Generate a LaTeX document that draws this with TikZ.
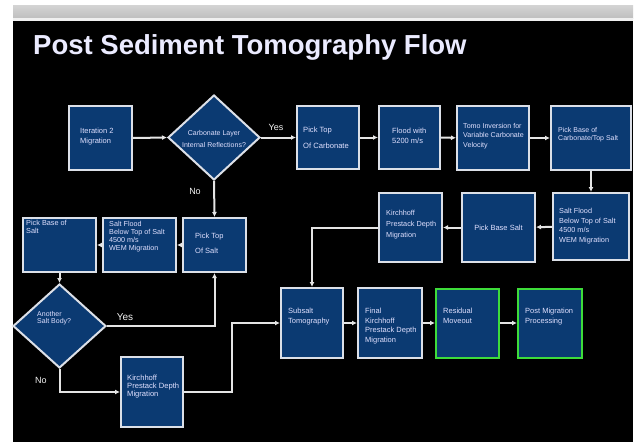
\documentclass[tikz,border=0pt]{standalone}
\usepackage{fontspec}
\setmainfont{Liberation Sans}
\usetikzlibrary{shapes.geometric,arrows.meta}
\definecolor{boxblue}{HTML}{0B3A72}
\definecolor{boxline}{HTML}{DCE0E8}
\definecolor{greenline}{HTML}{3EDC3A}
\definecolor{wire}{HTML}{E4E4E4}
\tikzset{
  box/.style={draw=boxline, fill=boxblue, line width=2pt, inner sep=0pt, rectangle},
  gbox/.style={box, draw=greenline},
  dia/.style={draw=boxline, fill=boxblue, line width=2pt, inner sep=0pt, diamond},
  txt/.style={text=white!88!blue, font=\fontsize{7.5}{9.5}\selectfont, align=left, inner sep=0pt, anchor=north west},
  ctxt/.style={txt, align=center, anchor=center},
  lbl/.style={text=white!90!gray, font=\fontsize{9}{10}\selectfont, inner sep=0pt},
  conn/.style={draw=wire, line width=2pt, -{Latex[length=5pt,width=5pt]}},
  plain/.style={draw=wire, line width=2pt},
}
\begin{document}
\begin{tikzpicture}[x=1pt,y=-1pt]
\useasboundingbox (0,0) rectangle (636,442);
\fill[white] (0,0) rectangle (636,442);
\shade[top color=black!17, bottom color=black!25] (13,5) rectangle (633,18);
\fill[black!6] (13,18) rectangle (633,20.5);
\fill[black] (13,20.5) rectangle (633,442);
\node[anchor=base west, text=white!92!blue, font=\bfseries\fontsize{27.5}{30}\selectfont, inner sep=0pt] (title) at (33,54) {Post Sediment Tomography Flow};

% boxes
\node[box, minimum width=63, minimum height=64] (iter) at (100.5,138) {};
\node[dia, minimum width=92, minimum height=85] (d1) at (214,137.5) {};
\node[box, minimum width=62, minimum height=63] (ptc) at (328,137.5) {};
\node[box, minimum width=61, minimum height=63] (flood) at (409.5,137.5) {};
\node[box, minimum width=72, minimum height=64] (tomo) at (493,138) {};
\node[box, minimum width=80, minimum height=64] (pbc) at (591,138) {};
\node[box, minimum width=76, minimum height=67] (sfr) at (591,226.5) {};
\node[box, minimum width=73, minimum height=69] (pbs) at (498.5,227.5) {};
\node[box, minimum width=63, minimum height=69] (kt) at (410.5,227.5) {};
\node[box, minimum width=63, minimum height=54] (pts) at (214.5,245) {};
\node[box, minimum width=73, minimum height=54] (sfl) at (139.5,245) {};
\node[box, minimum width=73, minimum height=54] (pbsl) at (59.5,245) {};
\node[dia, minimum width=93, minimum height=84] (d2) at (59.5,326) {};
\node[box, minimum width=62, minimum height=70] (kb) at (152,392) {};
\node[box, minimum width=62, minimum height=70] (sub) at (312,323) {};
\node[box, minimum width=64, minimum height=70] (fk) at (390,323) {};
\node[gbox, minimum width=63, minimum height=69] (rm) at (467.5,323) {};
\node[gbox, minimum width=64, minimum height=69] (pmp) at (550,323) {};

% texts
\node[txt] (titer) at (80,128) {Iteration 2\\Migration};
\node[ctxt, font=\fontsize{7}{12}\selectfont] (td1) at (214,139) {Carbonate Layer\\Internal Reflections?};
\node[txt, font=\fontsize{7.6}{15.5}\selectfont] (tptc) at (303,127) {Pick Top\\Of Carbonate};
\node[txt] (tflood) at (392,128) {Flood with\\5200 m/s};
\node[txt, font=\fontsize{7.1}{9.5}\selectfont] (ttomo) at (463,123) {Tomo Inversion for\\Variable Carbonate\\Velocity};
\node[txt, font=\fontsize{7}{8.5}\selectfont] (tpbc) at (558,127) {Pick Base of\\Carbonate/Top Salt};
\node[txt, font=\fontsize{7.3}{9.7}\selectfont] (tsfr) at (559,208) {Salt Flood\\Below Top of Salt\\4500 m/s\\WEM Migration};
\node[ctxt] (tpbs) at (498.5,227.5) {Pick Base Salt};
\node[txt, font=\fontsize{7.3}{11}\selectfont] (tkt) at (386,210) {Kirchhoff\\Prestack Depth\\Migration};
\node[txt, font=\fontsize{7.5}{14.5}\selectfont] (tpts) at (195,233) {Pick Top\\Of Salt};
\node[txt, font=\fontsize{7.2}{8}\selectfont] (tsfl) at (109,221) {Salt Flood\\Below Top of Salt\\4500 m/s\\WEM Migration};
\node[txt, font=\fontsize{7.3}{8.5}\selectfont] (tpbsl) at (26,220) {Pick Base of\\Salt};
\node[txt, font=\fontsize{7}{7.5}\selectfont] (td2) at (37,311) {Another\\Salt Body?};
\node[txt, font=\fontsize{7.6}{7.8}\selectfont] (tkb) at (127,375) {Kirchhoff\\Prestack Depth\\Migration};
\node[txt] (tsub) at (288,308) {Subsalt\\Tomography};
\node[txt] (tfk) at (365,308) {Final\\Kirchhoff\\Prestack Depth\\Migration};
\node[txt] (trm) at (443,308) {Residual\\Moveout};
\node[txt] (tpmp) at (525,308) {Post Migration\\Processing};

% labels
\node[lbl] (yes1) at (276,127) {Yes};
\node[lbl] (no1) at (195,191) {No};
\node[lbl, font=\fontsize{10}{11}\selectfont] (yes2) at (125,317) {Yes};
\node[lbl] (no2) at (41,380) {No};

% helper coordinates
\coordinate (c1) at (312,227.5);
\coordinate (c2) at (214.5,326);
\coordinate (c3) at (59.5,392);
\coordinate (c4) at (232,392);
\coordinate (c5) at (232,323);

% connectors
\draw[conn] (iter.east) -- (d1.west);
\draw[conn] (d1.east) -- (ptc.west);
\draw[conn] (ptc) -- (flood);
\draw[conn] (flood) -- (tomo);
\draw[conn] (tomo) -- (pbc);
\draw[conn] (pbc) -- (sfr);
\draw[conn] (sfr) -- (pbs);
\draw[conn] (pbs) -- (kt);
\draw[conn] (kt.west) -- (c1) -- (sub.north);
\draw[conn] (d1.south) -- (pts.north);
\draw[conn] (pts) -- (sfl);
\draw[conn] (sfl) -- (pbsl);
\draw[conn] (pbsl.south) -- (d2.north);
\draw[conn] (d2.east) -- (c2) -- (pts.south);
\draw[conn] (d2.south) -- (c3) -- (kb.west);
\draw[conn] (kb.east) -- (c4) -- (c5) -- (sub.west);
\draw[conn] (sub) -- (fk);
\draw[conn] (fk) -- (rm);
\draw[conn] (rm) -- (pmp);
\end{tikzpicture}
\end{document}
